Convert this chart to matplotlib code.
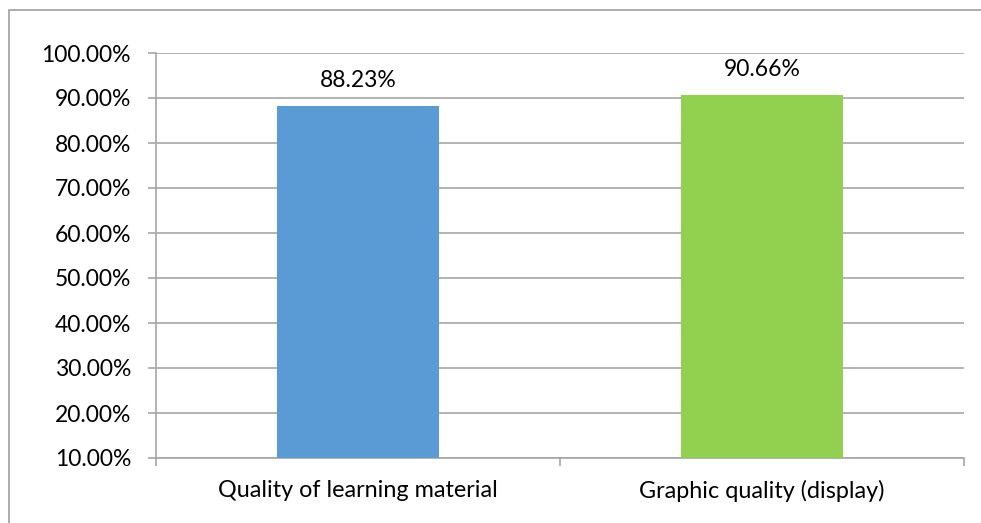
import matplotlib.pyplot as plt
from matplotlib.patches import Rectangle
from matplotlib.ticker import FixedLocator, PercentFormatter

categories = ['Quality of learning material', 'Graphic quality (display)']
values = [88.23, 90.66]
bar_colors = ['#5B9BD5', '#92D050']
y_ticks = [10, 20, 30, 40, 50, 60, 70, 80, 90, 100]

plt.rcParams['font.family'] = ['Lato', 'DejaVu Sans']
grid_color = '#A6A6A6'
fs = 16.5

fig = plt.figure(figsize=(9.81, 5.23), dpi=100)

# outer chart border (runs past right and bottom edges)
fig.patches.append(Rectangle((9 / 981, -0.05), 1.1, 1 - 10 / 523 + 0.05,
                             transform=fig.transFigure, fill=False,
                             edgecolor='#A0A0A0', linewidth=1.2))

ax = fig.add_axes([156 / 981, 1 - 458 / 523, (964 - 156) / 981, (458 - 53) / 523])

x = list(range(len(categories)))
ax.bar(x, values, width=0.4, color=bar_colors, zorder=3)

# data labels
for xi, v in zip(x, values):
    ax.text(xi, v + 3.3, f'{v:.2f}%', ha='center', va='bottom', fontsize=fs)

ax.set_xlim(-0.5, 1.5)
ax.set_ylim(10, 100)
ax.set_yticks(y_ticks)
ax.yaxis.set_major_formatter(PercentFormatter(decimals=2))
ax.grid(axis='y', color=grid_color, linewidth=1.2, zorder=0)

ax.set_xticks(x)
ax.set_xticklabels(categories, fontsize=16.8)
ax.xaxis.set_minor_locator(FixedLocator([-0.5, 0.5, 1.5]))
ax.tick_params(axis='x', which='major', length=0, pad=16)
ax.tick_params(axis='x', which='minor', length=6, color=grid_color, width=1.2)
ax.tick_params(axis='y', length=6, color=grid_color, width=1.2, pad=12, labelsize=fs)

for side in ['top', 'right']:
    ax.spines[side].set_visible(False)
for side in ['left', 'bottom']:
    ax.spines[side].set_color(grid_color)
    ax.spines[side].set_linewidth(1.2)

fig.savefig('out.png', dpi=100)
